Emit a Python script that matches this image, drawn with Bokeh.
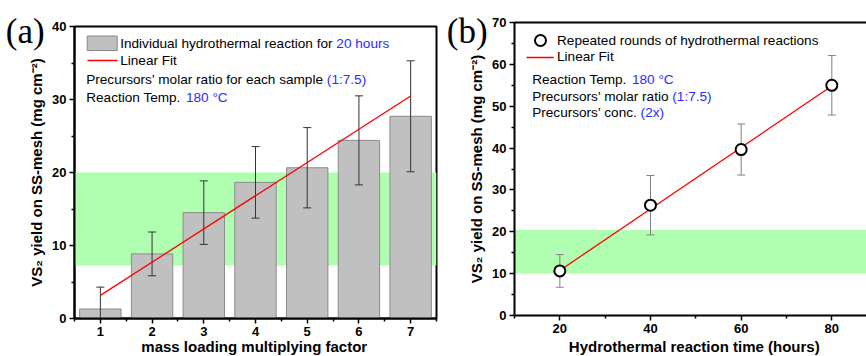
import numpy as np
from bokeh.plotting import figure
from bokeh.models import Label, BoxAnnotation, FixedTicker, LinearAxis, Range1d, Title
from bokeh.embed import file_html
from bokeh.resources import INLINE

# ---------------- data: panel (a) ----------------
factor = [1, 2, 3, 4, 5, 6, 7]
yield_a = [1.3, 8.85, 14.5, 18.65, 20.65, 24.4, 27.7]
err_a = [3.0, 3.0, 4.35, 4.9, 5.5, 6.1, 7.6]
band_a = [7.25, 20.0]
xticks_a = [1, 2, 3, 4, 5, 6, 7]
xminor_a = [0.5, 1.5, 2.5, 3.5, 4.5, 5.5, 6.5, 7.5]
yticks_a = [0, 10, 20, 30, 40]
yminor_a = [5, 15, 25, 35]

# ---------------- data: panel (b) ----------------
time_h = [20, 40, 60, 80]
yield_b = [10.65, 26.35, 39.65, 55.0]
err_b = [3.9, 7.1, 6.1, 7.1]
band_b = [10.0, 20.4]
xticks_b = [20, 40, 60, 80]
xminor_b = [10, 30, 50, 70]
yticks_b = [0, 10, 20, 30, 40, 50, 60, 70]
yminor_b = [5, 15, 25, 35, 45, 55, 65]

BLUE = "#2b2bff"
GREEN = "#b0ffb0"
SANS = "Liberation Sans"
SERIF = "Liberation Serif"
FS = 13.6
TEXT_DY = -5.0   # empirical baseline correction for Label placement

W = {' ': 278, "'": 191, '(': 333, ')': 333, '.': 278, ':': 278, '°': 400,
     'I': 278, 'L': 556, 'F': 611, 'P': 667, 'R': 722, 'T': 611, 'C': 722,
     'a': 556, 'b': 556, 'c': 500, 'd': 556, 'e': 556, 'f': 278, 'g': 556, 'h': 556,
     'i': 222, 'j': 222, 'k': 500, 'l': 222, 'm': 833, 'n': 556, 'o': 556, 'p': 556,
     'q': 556, 'r': 333, 's': 500, 't': 278, 'u': 556, 'v': 500, 'w': 722, 'x': 500,
     'y': 500, 'z': 500}


def tw(s, fs=FS):
    return sum(W.get(c, 556) for c in s) * fs / 1000.0


def make_fig(width, xr, yr, fl, fr, ft, fb):
    p = figure(width=width, height=356, x_range=Range1d(*xr), y_range=Range1d(*yr),
               output_backend="svg", toolbar_location=None,
               min_border_left=fl, min_border_right=width - fr,
               min_border_top=ft, min_border_bottom=356 - fb)
    p.xgrid.visible = False
    p.ygrid.visible = False
    p.background_fill_color = "white"
    p.border_fill_color = "white"
    return p


def style_axes(p):
    for ax in p.xaxis + p.yaxis:
        ax.axis_line_width = 2
        ax.axis_line_color = "black"
        ax.major_tick_line_width = 1.5
        ax.minor_tick_line_width = 1.5
        ax.major_tick_in = 0
        ax.major_tick_out = 5
        ax.minor_tick_in = 0
        ax.minor_tick_out = 3
        ax.major_label_text_font = SANS
        ax.major_label_text_font_style = "bold"
        ax.major_label_text_font_size = "13px"
        ax.major_label_text_color = "black"
        ax.major_label_standoff = 3
        ax.axis_label_text_font = SANS
        ax.axis_label_text_font_style = "bold"
        ax.axis_label_text_font_size = "15px"
        ax.axis_label_text_color = "black"
    for ax in p.yaxis:
        ax.axis_label_standoff = 4


def x_title(p, text, offset, standoff):
    p.add_layout(Title(text=text, align="left", offset=offset, vertical_align="bottom",
                       text_font=SANS, text_font_size="15px", text_font_style="bold",
                       text_color="black", standoff=standoff), "below")


def add_text(p, fl, fb, px, py, parts, fs=FS):
    x = px
    for txt, col in parts:
        p.add_layout(Label(x=x - fl, y=fb - (py + TEXT_DY), x_units="screen", y_units="screen",
                           text=txt, text_font=SANS, text_font_size=f"{fs}px",
                           text_color=col, text_baseline="alphabetic", text_align="left"))
        x += tw(txt, fs)


def panel_letter(p, text, offset, standoff):
    p.add_layout(Title(text=text, align="left", offset=offset, vertical_align="bottom",
                       text_font=SERIF, text_font_size="35px", text_font_style="normal",
                       text_color="black", standoff=standoff), "above")


# ======================= panel (a) =======================
FLA, FRA, FTA, FBA = 74, 436, 26, 318
XRA, YRA = (0.5, 7.5), (0, 40)
pa = make_fig(440, XRA, YRA, FLA, FRA, FTA, FBA)
pa.outline_line_color = "black"
pa.outline_line_width = 2
pa.xaxis.ticker = FixedTicker(ticks=xticks_a, minor_ticks=xminor_a)
pa.yaxis.ticker = FixedTicker(ticks=yticks_a, minor_ticks=yminor_a)
pa.yaxis.axis_label = "VS₂ yield on SS-mesh (mg cm⁻²)"
style_axes(pa)
x_title(pa, "mass loading multiplying factor", 66.8, -6)


def xa(px):
    return XRA[0] + (px - FLA) * (XRA[1] - XRA[0]) / (FRA - FLA)


def ya(py):
    return YRA[0] + (FBA - py) * (YRA[1] - YRA[0]) / (FBA - FTA)


pa.add_layout(BoxAnnotation(bottom=band_a[0], top=band_a[1], fill_color=GREEN,
                            fill_alpha=1, line_color=None, level="underlay"))
pa.vbar(x=factor, top=yield_a, bottom=0, width=0.8, fill_color="#c0c0c0",
        line_color="#8a8a8a", line_width=1)
lo_a = [v - e for v, e in zip(yield_a, err_a)]
hi_a = [v + e for v, e in zip(yield_a, err_a)]
pa.segment(x0=factor, y0=lo_a, x1=factor, y1=hi_a, line_color="#333333", line_width=1)
pa.scatter(x=factor + factor, y=lo_a + hi_a, marker="dash", size=8,
           line_color="#333333", line_width=1)
ca = np.polyfit(factor, yield_a, 1, w=1.0 / np.array(err_a))
fx_a = [factor[0], factor[-1]]
pa.line(fx_a, [ca[0] * x + ca[1] for x in fx_a], line_color="red", line_width=1.3)

# legend (a)
pa.quad(left=xa(86.7), right=xa(116.7), top=ya(35.5), bottom=ya(50),
        fill_color="#c0c0c0", line_color="#8a8a8a", line_width=1)
pa.line([xa(87), xa(117)], [ya(60), ya(60)], line_color="red", line_width=1.3)
add_text(pa, FLA, FBA, 119.7, 48.0, [("Individual hydrothermal reaction for ", "black"), ("20 hours", BLUE)])
add_text(pa, FLA, FBA, 119.7, 65.2, [("Linear Fit", "black")])
add_text(pa, FLA, FBA, 85.7, 84.4, [("Precursors' molar ratio for each sample ", "black"), ("(1:7.5)", BLUE)])
add_text(pa, FLA, FBA, 85.7, 101.8, [("Reaction Temp. ", "black"), ("180 °C", BLUE)])
panel_letter(pa, "(a)", -68.7, -48)

# ======================= panel (b) =======================
OFF = 440
FLB, FRB, FTB, FBB = 74, 426, 22, 315
XRB, YRB = (10, 87.65), (0, 70)
pb = make_fig(426, XRB, YRB, FLB, FRB, FTB, FBB)
pb.outline_line_color = None
pb.xaxis.ticker = FixedTicker(ticks=xticks_b, minor_ticks=xminor_b)
pb.yaxis.ticker = FixedTicker(ticks=yticks_b, minor_ticks=yminor_b)
pb.yaxis.axis_label = "VS₂ yield on SS-mesh (mg cm⁻²)"
style_axes(pb)
x_title(pb, "Hydrothermal reaction time (hours)", 54.3, 0)
pb.add_layout(LinearAxis(ticker=FixedTicker(ticks=[], minor_ticks=[]), axis_line_width=2,
                         axis_line_color="black", major_label_text_font_size="0px",
                         major_tick_out=0, minor_tick_out=0, major_label_standoff=0,
                         major_tick_line_color=None, minor_tick_line_color=None), "above")


def xb(px):
    return XRB[0] + (px - OFF - FLB) * (XRB[1] - XRB[0]) / (FRB - FLB)


def yb(py):
    return YRB[0] + (FBB - py) * (YRB[1] - YRB[0]) / (FBB - FTB)


pb.add_layout(BoxAnnotation(bottom=band_b[0], top=band_b[1], fill_color=GREEN,
                            fill_alpha=1, line_color=None, level="underlay"))
lo_b = [v - e for v, e in zip(yield_b, err_b)]
hi_b = [v + e for v, e in zip(yield_b, err_b)]
pb.segment(x0=time_h, y0=lo_b, x1=time_h, y1=hi_b, line_color="#808080", line_width=1)
pb.scatter(x=time_h + time_h, y=lo_b + hi_b, marker="dash", size=8,
           line_color="#808080", line_width=1)
cb = np.polyfit(time_h, yield_b, 1, w=1.0 / np.array(err_b))
fx_b = [time_h[0], time_h[-1]]
pb.line(fx_b, [cb[0] * x + cb[1] for x in fx_b], line_color="red", line_width=1.3)
pb.scatter(x=time_h, y=yield_b, marker="circle", size=11, fill_color="white",
           line_color="black", line_width=2)

# legend (b)
pb.scatter(x=[xb(540)], y=[yb(40)], marker="circle", size=11, fill_color="white",
           line_color="black", line_width=2)
pb.line([xb(526), xb(553.3)], [yb(57), yb(57)], line_color="red", line_width=1.3)


def add_text_b(px, py, parts):
    add_text(pb, FLB, FBB, px - OFF, py, parts)


add_text_b(556.5, 44.6, [("Repeated rounds of hydrothermal reactions", "black")])
add_text_b(556.5, 61.3, [("Linear Fit", "black")])
add_text_b(531.7, 84.0, [("Reaction Temp. ", "black"), ("180 °C", BLUE)])
add_text_b(531.7, 100.7, [("Precursors' molar ratio ", "black"), ("(1:7.5)", BLUE)])
add_text_b(531.7, 117.3, [("Precursors' conc. ", "black"), ("(2x)", BLUE)])
panel_letter(pb, "(b)", -67.7, -56)

# two independent roots placed side by side (keeps each panel's own frame box)
TEMPLATE = """
{% block postamble %}
{{ super() }}
<style>
  html, body { margin: 0; padding: 0; }
  body { display: flex; flex-direction: row; align-items: flex-start; }
</style>
{% endblock %}
"""
open("out.html", "w").write(file_html([pa, pb], INLINE, template=TEMPLATE))
